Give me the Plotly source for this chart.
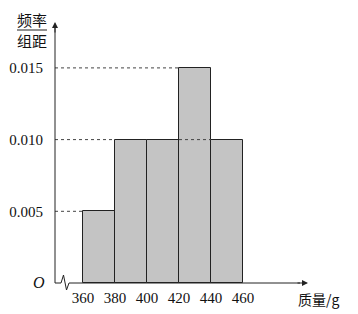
import plotly.graph_objects as go

edges = [360, 380, 400, 420, 440, 460]
freq_density = [0.005, 0.010, 0.010, 0.015, 0.010]
ytick_vals = [0.005, 0.010, 0.015]
ytick_text = ["0.005", "0.010", "0.015"]
xtick_text = ["360", "380", "400", "420", "440", "460"]

# layout geometry (pixels)
L, R, T, B = 55, 48, 20, 31
W, H = 358, 314
PW, PH = W - L - R, H - T - B
def xv(px):
    return 360 + (px - 83) / 1.6
def yv(py):
    return (283 - py) / 14340.0
def xp(px):
    return (px - L) / PW
def yp(py):
    return (H - B - py) / PH

centers = [(a + b) / 2 for a, b in zip(edges[:-1], edges[1:])]
widths = [b - a for a, b in zip(edges[:-1], edges[1:])]

fig = go.Figure()
fig.add_trace(go.Bar(
    x=centers, y=freq_density, width=widths,
    marker=dict(color="#c4c4c4", line=dict(color="#222222", width=1)),
    hoverinfo="skip",
))

dash_line = dict(color="#444444", width=1, dash="dot")
shapes = []
for i, h in enumerate(freq_density):
    first = next(j for j, v in enumerate(freq_density) if v >= h)
    if first == i:
        shapes.append(dict(type="line", xref="x", yref="y", x0=xv(55), x1=edges[i],
                           y0=h, y1=h, line=dash_line))
imax = freq_density.index(max(freq_density))
shapes.append(dict(type="line", xref="x", yref="y", x0=edges[imax], x1=edges[imax + 1],
                   y0=freq_density[imax + 1], y1=freq_density[imax + 1], line=dash_line))
# y axis line
shapes.append(dict(type="line", xref="paper", yref="paper", x0=xp(55), x1=xp(55),
                   y0=yp(283), y1=yp(28), line=dict(color="#222222", width=1)))
# x axis with break zigzag
zig = [(55, 283), (61, 283), (63.5, 275), (66.5, 290), (69, 283), (300, 283)]
path = "M " + " L ".join(f"{xp(px)},{yp(py)}" for px, py in zig)
shapes.append(dict(type="path", xref="paper", yref="paper", path=path,
                   line=dict(color="#222222", width=1)))
# fraction bar
shapes.append(dict(type="line", xref="paper", yref="paper", x0=xp(17), x1=xp(47),
                   y0=yp(30), y1=yp(30), line=dict(color="#222222", width=1)))

def txt(px, py, s, fam, size):
    return dict(x=xp(px), y=yp(py), xref="paper", yref="paper", text=s, showarrow=False,
                xanchor="center", yanchor="middle",
                font=dict(family=fam, size=size, color="#111111"))

annotations = [
    dict(x=xp(308), y=yp(283), xref="paper", yref="paper", ax=-12, ay=0,
         text="", showarrow=True, arrowhead=2, arrowsize=1.2, arrowwidth=1, arrowcolor="#222222"),
    dict(x=xp(55), y=yp(22), xref="paper", yref="paper", ax=0, ay=12,
         text="", showarrow=True, arrowhead=2, arrowsize=1.2, arrowwidth=1, arrowcolor="#222222"),
    txt(32, 19, "频率", "Noto Sans CJK SC", 15),
    txt(32, 40, "组距", "Noto Sans CJK SC", 15),
    txt(318, 299, "质量/g", "Noto Sans CJK SC, Liberation Serif", 14),
    txt(39, 282, "<i>O</i>", "Liberation Serif", 16),
]

fig.update_layout(
    width=W, height=H,
    margin=dict(l=L, r=R, t=T, b=B, autoexpand=False),
    paper_bgcolor="white", plot_bgcolor="white",
    showlegend=False,
    shapes=shapes, annotations=annotations,
    xaxis=dict(range=[xv(L), xv(W - R)], tickvals=edges, ticktext=xtick_text,
               showgrid=False, zeroline=False, showline=False, automargin=False,
               ticks="outside", ticklen=1, tickcolor="rgba(0,0,0,0)",
               tickfont=dict(family="Liberation Serif", size=15, color="#111111")),
    yaxis=dict(range=[0, yv(T)], tickvals=ytick_vals, ticktext=ytick_text,
               showgrid=False, zeroline=False, showline=False, automargin=False,
               ticks="outside", ticklen=8, tickcolor="rgba(0,0,0,0)",
               tickfont=dict(family="Liberation Serif", size=15, color="#111111")),
    bargap=0,
)

fig.write_html("out.html")
